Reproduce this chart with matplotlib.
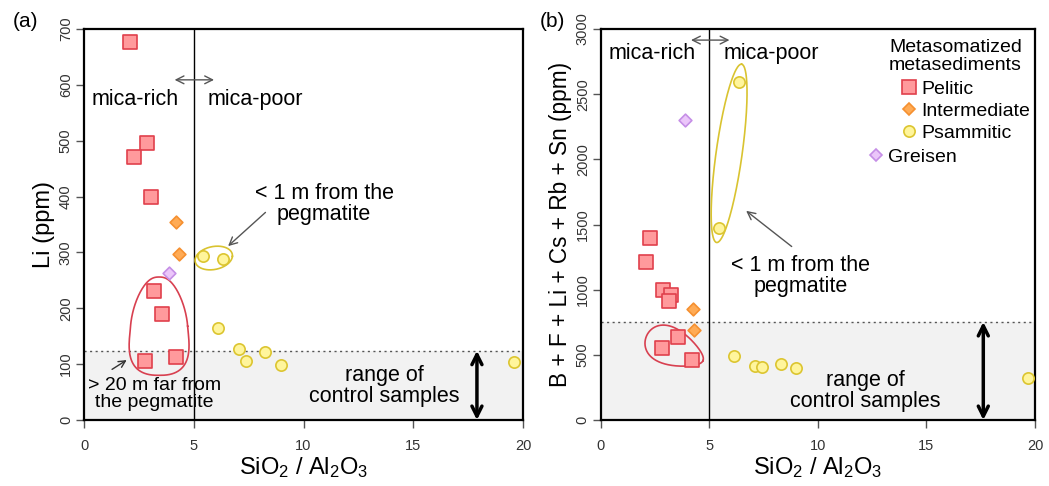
import numpy as np
import matplotlib
matplotlib.use("Agg")
import matplotlib.pyplot as plt
from matplotlib.lines import Line2D

plt.rcParams['font.family'] = ['Liberation Sans', 'DejaVu Sans']
plt.rcParams['mathtext.default'] = 'regular'

# panel (a): Li
pel_x_a = [2.09, 2.85, 2.27, 3.06, 3.21, 3.53, 2.80, 4.21]
pel_y_a = [676, 496, 471, 400, 231, 190, 105, 112]
int_x_a = [4.21, 4.33]
int_y_a = [355, 298]
psa_x_a = [5.42, 6.35, 6.09, 7.08, 7.36, 8.26, 8.98, 19.6]
psa_y_a = [294, 288, 165, 127, 105, 122, 98, 103]
gre_x_a = [3.86]
gre_y_a = [264]
ctrl_a = 124

# panel (b): B + F + Li + Cs + Rb + Sn
pel_x_b = [2.27, 2.09, 2.84, 3.21, 3.13, 2.83, 3.53, 4.21]
pel_y_b = [1397, 1211, 1001, 957, 916, 550, 640, 463]
int_x_b = [4.22, 4.30]
int_y_b = [852, 688]
psa_x_b = [6.34, 5.44, 6.11, 7.11, 7.42, 8.29, 8.99, 19.66]
psa_y_b = [2595, 1477, 494, 417, 407, 427, 399, 322]
gre_x_b = [3.87]
gre_y_b = [2301]
ctrl_b = 752

PEL = dict(marker='s', s=88, facecolor='#ff9a9c', edgecolor='#e0404c', linewidths=1.2, zorder=4)
INT = dict(marker='D', s=42, facecolor='#ffab55', edgecolor='#f59030', linewidths=1.2, zorder=4)
PSA = dict(marker='o', s=66, facecolor='#fff59c', edgecolor='#dcc530', linewidths=1.2, zorder=4)
GRE = dict(marker='D', s=42, facecolor='#ebc6fa', edgecolor='#c58ee6', linewidths=1.2, zorder=4)

FS = 15.5
GRAY = '#555555'


def blob(ax, c, a, b, color, ta=0.0, tb=0.0, p=1.0):
    # closed outline drawn around a group of samples
    t = np.linspace(0, 2 * np.pi, 300)
    ct = np.sign(np.cos(t)) * np.abs(np.cos(t)) ** p
    st = np.sign(np.sin(t)) * np.abs(np.sin(t)) ** p
    ca = ct * (1 - ta * np.sin(t))
    sb = st * (1 - tb * np.cos(t))
    pts = np.asarray(c)[:, None] + np.outer(a, ca) + np.outer(b, sb)
    ax.plot(pts[0], pts[1], color=color, lw=1.2, zorder=3)


def base(ax, ymax, ystep, ctrl, ylabel, yfs):
    ax.axhspan(0, ctrl, color='#f2f2f2', zorder=0, lw=0)
    ax.axhline(ctrl, ls=(0, (1.5, 2.5)), color=GRAY, lw=1, zorder=1)
    ax.axvline(5, color='black', lw=1, zorder=1)
    ax.set_xlim(0, 20)
    ax.set_ylim(0, ymax)
    ax.set_xticks([0, 5, 10, 15, 20])
    ax.set_yticks(np.arange(0, ymax + 1, ystep))
    ax.tick_params(direction='out', length=6, width=1, color=GRAY,
                   labelsize=10.5, labelcolor='#333333')
    ax.tick_params(axis='x', pad=8)
    ax.tick_params(axis='y', pad=2)
    for lab in ax.get_yticklabels():
        lab.set_rotation(90)
        lab.set_va('center')
    for sp in ax.spines.values():
        sp.set_linewidth(1.6)
    ax.set_xlabel('SiO$_2$ / Al$_2$O$_3$', fontsize=17, labelpad=1)
    ax.set_ylabel(ylabel, fontsize=yfs, labelpad=3)


fig = plt.figure(figsize=(10.49, 4.86), dpi=100)
axa = fig.add_axes([0.0801, 0.1358, 0.4185, 0.8045])
axb = fig.add_axes([0.5729, 0.1358, 0.4137, 0.8045])

# ---- panel a
base(axa, 700, 100, ctrl_a, 'Li (ppm)', 17)
axa.scatter(pel_x_a, pel_y_a, **PEL)
axa.scatter(int_x_a, int_y_a, **INT)
axa.scatter(psa_x_a, psa_y_a, **PSA)
axa.scatter(gre_x_a, gre_y_a, **GRE)

axa.annotate('', xy=(4.0, 609), xytext=(6.05, 609),
             arrowprops=dict(arrowstyle='<->', color=GRAY, lw=1, mutation_scale=14))
axa.text(2.34, 573, 'mica-rich', fontsize=FS, ha='center', va='center')
axa.text(7.82, 573, 'mica-poor', fontsize=FS, ha='center', va='center')
axa.text(10.94, 386, '< 1 m from the\npegmatite', fontsize=FS, ha='center', va='center',
         linespacing=1.0)
axa.annotate('', xy=(6.47, 308), xytext=(8.36, 375),
             arrowprops=dict(arrowstyle='->', color=GRAY, lw=1, mutation_scale=14))
axa.text(3.21, 46, '> 20 m far from\nthe pegmatite', fontsize=14, ha='center', va='center',
         linespacing=1.0, zorder=5)
axa.annotate('', xy=(2.05, 110), xytext=(1.17, 88),
             arrowprops=dict(arrowstyle='->', color='#333333', lw=1, mutation_scale=12))
axa.text(13.7, 61, 'range of\ncontrol samples', fontsize=FS, ha='center', va='center',
         linespacing=1.0)
axa.annotate('', xy=(17.9, 0), xytext=(17.9, ctrl_a),
             arrowprops=dict(arrowstyle='<->', color='black', lw=2.5, mutation_scale=18,
                             shrinkA=0, shrinkB=0))
blob(axa, (5.91, 290), (0.85, 3), (0.05, 21), '#d9c330')
blob(axa, (3.42, 168), (1.3, 0), (0, 88), '#d84050', ta=0.3, p=0.8)

# ---- panel b
base(axb, 3000, 500, ctrl_b, 'B + F + Li + Cs + Rb + Sn (ppm)', 16.3)
axb.scatter(pel_x_b, pel_y_b, **PEL)
axb.scatter(int_x_b, int_y_b, **INT)
axb.scatter(psa_x_b, psa_y_b, **PSA)
axb.scatter(gre_x_b, gre_y_b, **GRE)

axb.annotate('', xy=(4.02, 2915), xytext=(6.05, 2915),
             arrowprops=dict(arrowstyle='<->', color=GRAY, lw=1, mutation_scale=14))
axb.text(2.34, 2815, 'mica-rich', fontsize=FS, ha='center', va='center')
axb.text(7.85, 2815, 'mica-poor', fontsize=FS, ha='center', va='center')
axb.text(9.2, 1103, '< 1 m from the\npegmatite', fontsize=FS, ha='center', va='center',
         linespacing=1.0)
axb.annotate('', xy=(6.59, 1618), xytext=(8.89, 1318),
             arrowprops=dict(arrowstyle='->', color=GRAY, lw=1, mutation_scale=14))
axb.text(12.2, 226, 'range of\ncontrol samples', fontsize=FS, ha='center', va='center',
         linespacing=1.0)
axb.annotate('', xy=(17.62, 0), xytext=(17.62, ctrl_b),
             arrowprops=dict(arrowstyle='<->', color='black', lw=2.5, mutation_scale=18,
                             shrinkA=0, shrinkB=0))
blob(axb, (5.905, 2046), (0.575, 684), (0.594, -14), '#d9c330')
blob(axb, (3.4, 550), (1.3, -95), (-0.33, -125), '#d84050', tb=0.35)

# legend
axb.text(0.664, 0.93, 'Metasomatized\nmetasediments', transform=axb.transAxes,
         fontsize=14, ha='left', va='center', linespacing=1.05)
h3 = [Line2D([], [], ls='', marker='s', ms=9.4, mfc='#ff9a9c', mec='#e0404c', mew=1.2),
      Line2D([], [], ls='', marker='D', ms=6.5, mfc='#ffab55', mec='#f59030', mew=1.2),
      Line2D([], [], ls='', marker='o', ms=8.1, mfc='#fff59c', mec='#dcc530', mew=1.2)]
leg1 = axb.legend(h3, ['Pelitic', 'Intermediate', 'Psammitic'], loc='center left',
                  bbox_to_anchor=(0.691, 0.790), frameon=False, fontsize=14,
                  handlelength=0.8, handletextpad=0.25, labelspacing=0.23,
                  borderpad=0, borderaxespad=0)
axb.add_artist(leg1)
hg = [Line2D([], [], ls='', marker='D', ms=6.5, mfc='#ebc6fa', mec='#c58ee6', mew=1.2)]
axb.legend(hg, ['Greisen'], loc='center left', bbox_to_anchor=(0.615, 0.672),
           frameon=False, fontsize=14, handlelength=0.8, handletextpad=0.25,
           borderpad=0, borderaxespad=0)

fig.text(0.024, 0.955, '(a)', fontsize=15, ha='center', va='center')
fig.text(0.527, 0.955, '(b)', fontsize=15, ha='center', va='center')

fig.savefig('out.png', dpi=100)
